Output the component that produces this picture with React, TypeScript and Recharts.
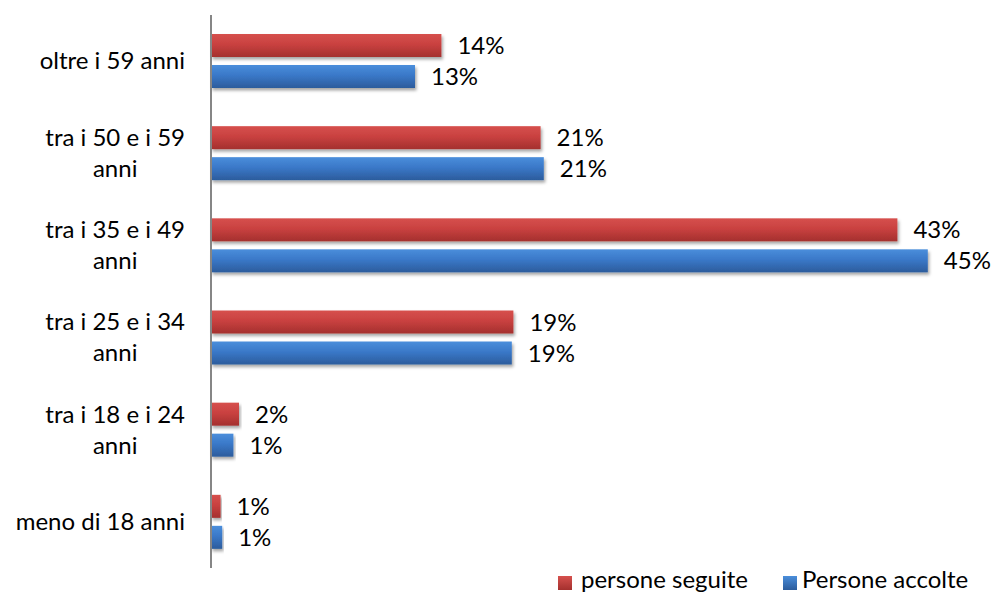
import React from 'react'
import { BarChart, Bar, XAxis, YAxis, LabelList } from 'recharts'

const categories = [
  'oltre i 59 anni',
  'tra i 50 e i 59 anni',
  'tra i 35 e i 49 anni',
  'tra i 25 e i 34 anni',
  'tra i 18 e i 24 anni',
  'meno di 18 anni',
]
// bar lengths (percent)
const seguite = [14.4, 20.6, 42.9, 18.9, 1.75, 0.6]
const accolte = [12.75, 20.8, 44.8, 18.8, 1.4, 0.7]
// data labels as printed on the chart
const seguiteLabels = ['14%', '21%', '43%', '19%', '2%', '1%']
const accolteLabels = ['13%', '21%', '45%', '19%', '1%', '1%']
const seriesNames = ['persone seguite', 'Persone accolte']

const FONT = 'Lato, "Noto Sans", sans-serif'
const FS = 24

const data = categories.map((name, i) => ({
  name,
  seguite: seguite[i],
  accolte: accolte[i],
  seguiteLabel: seguiteLabels[i],
  accolteLabel: accolteLabels[i],
}))

let ctx: CanvasRenderingContext2D | null = null
const textWidth = (s: string) => {
  if (!ctx) {
    ctx = document.createElement('canvas').getContext('2d')
    if (ctx) ctx.font = `${FS}px Lato`
  }
  return ctx ? ctx.measureText(s).width : s.length * FS * 0.48
}

const wrap = (text: string, max: number) => {
  const words = text.split(' ')
  const lines: string[] = []
  let cur = ''
  words.forEach((w) => {
    const next = cur ? cur + ' ' + w : w
    if (cur && textWidth(next) > max) {
      lines.push(cur)
      cur = w
    } else cur = next
  })
  if (cur) lines.push(cur)
  return lines
}

const CategoryTick = (props: any) => {
  const { y, payload } = props
  const lines = wrap(payload.value, 180)
  const widest = Math.max(...lines.map(textWidth))
  const cx = 185 - widest / 2
  const lh = 31
  return (
    <g>
      {lines.map((l, i) => (
        <text
          key={i}
          x={cx}
          y={y + (i - (lines.length - 1) / 2) * lh}
          dy="0.35em"
          textAnchor="middle"
          fontFamily={FONT}
          fontSize={FS}
          fill="#000"
        >
          {l}
        </text>
      ))}
    </g>
  )
}

const shadedBar = (grad: string) => (props: any) => {
  const { x, y, width, height } = props
  if (!width || width <= 0) return <g />
  return <rect x={x} y={y} width={width} height={height} fill={`url(#${grad})`} filter="url(#barShadow)" />
}

const labelStyle = { fontFamily: FONT, fontSize: FS, fill: '#000' }

export default function App() {
  return (
    <div style={{ position: 'absolute', left: 0, top: 0, width: 991, height: 592, background: '#fff', overflow: 'hidden' }}>
      <BarChart
        width={991}
        height={592}
        data={data}
        layout="vertical"
        margin={{ top: 15, right: 12, bottom: 24, left: 0 }}
        barSize={23}
        barGap={8}
      >
        <defs>
          <linearGradient id="gradRed" x1="0" y1="0" x2="0" y2="1">
            <stop offset="0%" stopColor="#D6504D" />
            <stop offset="45%" stopColor="#C94140" />
            <stop offset="100%" stopColor="#A4302E" />
          </linearGradient>
          <linearGradient id="gradBlue" x1="0" y1="0" x2="0" y2="1">
            <stop offset="0%" stopColor="#4A8EDB" />
            <stop offset="45%" stopColor="#3A78C8" />
            <stop offset="100%" stopColor="#2C5C9C" />
          </linearGradient>
          <filter id="barShadow" x="-5%" y="-20%" width="115%" height="160%">
            <feDropShadow dx="1.5" dy="2.5" stdDeviation="1.8" floodColor="#000" floodOpacity="0.35" />
          </filter>
        </defs>
        <XAxis type="number" domain={[0, 48]} hide />
        <YAxis
          type="category"
          dataKey="name"
          width={211}
          axisLine={{ stroke: '#868686', strokeWidth: 2 }}
          tickLine={false}
          tick={<CategoryTick />}
          interval={0}
        />
        <Bar dataKey="seguite" name={seriesNames[0]} shape={shadedBar('gradRed')} isAnimationActive={false}>
          <LabelList dataKey="seguiteLabel" position="right" offset={16} style={labelStyle} />
        </Bar>
        <Bar dataKey="accolte" name={seriesNames[1]} shape={shadedBar('gradBlue')} isAnimationActive={false}>
          <LabelList dataKey="accolteLabel" position="right" offset={16} style={labelStyle} />
        </Bar>
      </BarChart>
      {/* legend */}
      <div style={{ position: 'absolute', left: 558, top: 576, width: 14, height: 14, background: 'linear-gradient(#D6504D, #A4302E)' }} />
      <div style={{ position: 'absolute', left: 581, top: 565, fontFamily: FONT, fontSize: FS, lineHeight: '28px', whiteSpace: 'nowrap' }}>
        {seriesNames[0]}
      </div>
      <div style={{ position: 'absolute', left: 783, top: 576, width: 14, height: 14, background: 'linear-gradient(#4A8EDB, #2C5C9C)' }} />
      <div style={{ position: 'absolute', left: 802, top: 565, fontFamily: FONT, fontSize: FS, lineHeight: '28px', whiteSpace: 'nowrap' }}>
        {seriesNames[1]}
      </div>
    </div>
  )
}
